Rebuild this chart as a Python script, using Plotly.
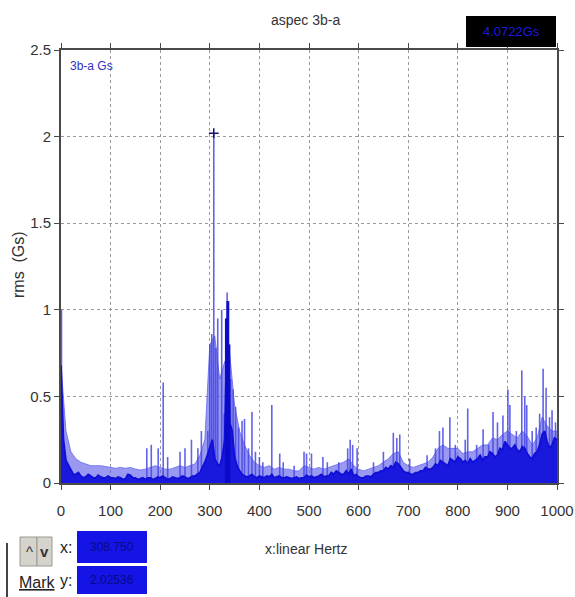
import plotly.graph_objects as go

# ---------------- spectrum data (rms in Gs, frequency in Hz) ----------------
# 10 Hz grid for the dense floor of the spectrum and its light upper envelope
grid_hz = [
    0, 10, 20, 30, 40, 50, 60, 70, 80, 90,
    100, 110, 120, 130, 140, 150, 160, 170, 180, 190,
    200, 210, 220, 230, 240, 250, 260, 270, 280, 290,
    300, 310, 320, 330, 340, 350, 360, 370, 380, 390,
    400, 410, 420, 430, 440, 450, 460, 470, 480, 490,
    500, 510, 520, 530, 540, 550, 560, 570, 580, 590,
    600, 610, 620, 630, 640, 650, 660, 670, 680, 690,
    700, 710, 720, 730, 740, 750, 760, 770, 780, 790,
    800, 810, 820, 830, 840, 850, 860, 870, 880, 890,
    900, 910, 920, 930, 940, 950, 960, 970, 980, 990,
    1000,
]

floor_rms = [
    0.68, 0.13, 0.07, 0.05, 0.04, 0.035, 0.04, 0.03, 0.035, 0.03,
    0.03, 0.025, 0.03, 0.025, 0.045, 0.03, 0.025, 0.02, 0.03, 0.025,
    0.03, 0.03, 0.025, 0.03, 0.03, 0.035, 0.03, 0.04, 0.06, 0.12,
    0.2, 0.14, 0.1, 0.25, 0.35, 0.15, 0.07, 0.04, 0.04, 0.035,
    0.04, 0.03, 0.035, 0.03, 0.04, 0.03, 0.03, 0.03, 0.025, 0.03,
    0.035, 0.03, 0.04, 0.035, 0.04, 0.05, 0.06, 0.05, 0.05, 0.04,
    0.035, 0.03, 0.04, 0.05, 0.06, 0.07, 0.08, 0.09, 0.11, 0.07,
    0.06, 0.05, 0.06, 0.07, 0.08, 0.09, 0.1, 0.12, 0.1, 0.13,
    0.15, 0.12, 0.11, 0.12, 0.14, 0.13, 0.15, 0.17, 0.16, 0.19,
    0.22, 0.2, 0.19, 0.21, 0.17, 0.14, 0.18, 0.28, 0.24, 0.22,
    0.25,
]

# floor values half-way between grid points (5, 15, ..., 995 Hz)
mid_hz = [
    5, 15, 25, 35, 45, 55, 65, 75, 85, 95,
    105, 115, 125, 135, 145, 155, 165, 175, 185, 195,
    205, 215, 225, 235, 245, 255, 265, 275, 285, 295,
    305, 315, 325, 335, 345, 355, 365, 375, 385, 395,
    405, 415, 425, 435, 445, 455, 465, 475, 485, 495,
    505, 515, 525, 535, 545, 555, 565, 575, 585, 595,
    605, 615, 625, 635, 645, 655, 665, 675, 685, 695,
    705, 715, 725, 735, 745, 755, 765, 775, 785, 795,
    805, 815, 825, 835, 845, 855, 865, 875, 885, 895,
    905, 915, 925, 935, 945, 955, 965, 975, 985, 995,
]

mid_rms = [
    0.25, 0.1, 0.05, 0.06, 0.03, 0.05, 0.03, 0.045, 0.03, 0.04,
    0.03, 0.035, 0.02, 0.05, 0.03, 0.02, 0.03, 0.03, 0.02, 0.035,
    0.04, 0.02, 0.035, 0.025, 0.04, 0.025, 0.04, 0.05, 0.09, 0.16,
    0.25, 0.11, 0.15, 0.95, 0.3, 0.1, 0.05, 0.035, 0.05, 0.03,
    0.035, 0.04, 0.05, 0.035, 0.03, 0.035, 0.025, 0.035, 0.03, 0.045,
    0.04, 0.035, 0.05, 0.04, 0.06, 0.07, 0.05, 0.07, 0.08, 0.05,
    0.03, 0.04, 0.035, 0.06, 0.07, 0.09, 0.1, 0.12, 0.09, 0.06,
    0.05, 0.06, 0.07, 0.09, 0.08, 0.11, 0.13, 0.11, 0.14, 0.12,
    0.14, 0.13, 0.14, 0.13, 0.16, 0.15, 0.18, 0.15, 0.2, 0.24,
    0.2, 0.22, 0.18, 0.2, 0.15, 0.17, 0.22, 0.3, 0.2, 0.26,
]

envelope_rms = [
    0.68, 0.3, 0.18, 0.14, 0.12, 0.11, 0.1, 0.1, 0.1, 0.095,
    0.09, 0.085, 0.09, 0.085, 0.09, 0.08, 0.075, 0.08, 0.09, 0.1,
    0.09, 0.08, 0.08, 0.09, 0.1, 0.09, 0.1, 0.11, 0.16, 0.25,
    0.8, 0.85, 0.6, 0.7, 0.75, 0.45, 0.3, 0.22, 0.16, 0.12,
    0.1, 0.09, 0.1, 0.08, 0.09, 0.08, 0.08, 0.07, 0.07, 0.1,
    0.09, 0.08, 0.09, 0.08, 0.09, 0.1, 0.11, 0.12, 0.14, 0.1,
    0.08, 0.07, 0.08, 0.09, 0.1, 0.12, 0.14, 0.17, 0.18, 0.12,
    0.1, 0.09, 0.1, 0.11, 0.12, 0.15, 0.2, 0.22, 0.2, 0.2,
    0.2, 0.17, 0.18, 0.18, 0.2, 0.22, 0.22, 0.26, 0.25, 0.28,
    0.3, 0.28, 0.26, 0.3, 0.27, 0.22, 0.26, 0.38, 0.33, 0.3,
    0.3,
]

# isolated spectral lines
peak_hz = [
    1, 173, 182, 196, 206, 215, 240, 250, 263, 276, 283, 296,
    300, 304, 308, 312, 316, 324, 329, 335, 338, 342, 347, 352,
    358, 365, 370, 378, 385, 392, 400, 407, 425, 441, 448, 470,
    490, 495, 505, 528, 537, 560, 578, 583, 588, 597, 630, 650,
    670, 677, 683, 703, 738, 755, 763, 770, 784, 795, 800, 815,
    820, 838, 851, 862, 871, 880, 891, 901, 905, 918, 929, 935,
    939, 950, 958, 965, 972, 978, 985, 990, 997,
]
peak_rms = [
    1.0, 0.2, 0.22, 0.2, 0.58, 0.15, 0.18, 0.2, 0.25, 0.2, 0.3, 0.3,
    0.8, 0.86, 2.02, 0.78, 0.95, 1.0, 0.4, 1.1, 1.05, 0.6, 0.54, 0.44,
    0.32, 0.36, 0.37, 0.2, 0.41, 0.18, 0.15, 0.12, 0.45, 0.17, 0.12, 0.1,
    0.18, 0.17, 0.17, 0.15, 0.12, 0.12, 0.2, 0.25, 0.22, 0.2, 0.12, 0.18,
    0.29, 0.26, 0.28, 0.14, 0.16, 0.2, 0.3, 0.32, 0.38, 0.22, 0.16, 0.25,
    0.43, 0.22, 0.31, 0.22, 0.41, 0.35, 0.39, 0.54, 0.45, 0.3, 0.65, 0.5,
    0.45, 0.3, 0.32, 0.4, 0.66, 0.55, 0.38, 0.42, 0.35,
]

# strong dark lines of the 335 Hz cluster
dark_peak_hz = [333, 336, 339]
dark_peak_rms = [0.95, 1.05, 0.8]

# cursor position
mark_hz = 308
mark_rms = 2.02

x_ticks = [0, 100, 200, 300, 400, 500, 600, 700, 800, 900, 1000]
y_ticks = [0, 0.5, 1, 1.5, 2, 2.5]
y_tick_text = ["0", "0.5", "1", "1.5", "2", "2.5"]

FONT = "Liberation Sans Narrow, Arial Narrow, Liberation Sans, Arial, sans-serif"
W, H = 575, 597
L, R, T, B = 61, 18, 50, 114
PW, PH = W - L - R, H - T - B


def px(x):
    return (x - L) / PW


def py(y):
    return (H - B - y) / PH


fig = go.Figure()

# light upper envelope
fig.add_trace(go.Scatter(
    x=grid_hz, y=envelope_rms, mode="lines",
    line=dict(width=0.8, color="rgba(90,90,235,0.9)"),
    fill="tozeroy", fillcolor="rgba(105,105,235,0.68)",
    hoverinfo="skip", showlegend=False,
))

# spectral lines
sx, sy = [], []
for f, v in zip(peak_hz, peak_rms):
    sx += [f, f, None]
    sy += [0, v, None]
fig.add_trace(go.Scatter(
    x=sx, y=sy, mode="lines",
    line=dict(width=1.6, color="rgba(70,70,230,0.85)"),
    hoverinfo="skip", showlegend=False,
))

# dense dark floor (grid and half-grid points merged in frequency order)
floor_pts = sorted(zip(grid_hz + mid_hz, floor_rms + mid_rms))
fig.add_trace(go.Scatter(
    x=[p[0] for p in floor_pts], y=[p[1] for p in floor_pts], mode="lines",
    line=dict(width=1.8, color="rgb(15,15,215)"),
    fill="tozeroy", fillcolor="rgb(25,25,222)",
    hoverinfo="skip", showlegend=False,
))

dx, dy = [], []
for f, v in zip(dark_peak_hz, dark_peak_rms):
    dx += [f, f, None]
    dy += [0, v, None]
fig.add_trace(go.Scatter(
    x=dx, y=dy, mode="lines",
    line=dict(width=2.5, color="rgb(10,10,200)"),
    hoverinfo="skip", showlegend=False,
))

# cursor marker
fig.add_trace(go.Scatter(
    x=[mark_hz], y=[mark_rms], mode="markers",
    marker=dict(symbol="cross-thin", size=7, line=dict(width=1.5, color="#10106a")),
    hoverinfo="skip", showlegend=False,
))

axis_common = dict(
    showline=True, linecolor="#4a4a4a", linewidth=2, mirror="ticks",
    ticks="outside", ticklen=5, tickwidth=1, tickcolor="#4a4a4a",
    showgrid=True, gridcolor="#9a9a9a", griddash="dot", gridwidth=1,
    zeroline=False, ticklabeloverflow="allow", automargin=False,
    tickfont=dict(family=FONT, size=15, color="#333333"),
)

fig.update_xaxes(range=[0, 1000], tickvals=x_ticks, ticklabelstandoff=8, **axis_common)
fig.update_yaxes(range=[0, 2.5], tickvals=y_ticks, ticktext=y_tick_text, **axis_common)

annotations = [
    dict(x=px(305), y=py(20), text="aspec 3b-a", font=dict(size=14, color="#333333")),
    dict(x=px(18), y=py(265), text="rms  (Gs)", textangle=-90, font=dict(size=16, color="#333333")),
    dict(x=px(306), y=py(549), text="x:linear Hertz", font=dict(size=14, color="#333333")),
    dict(x=px(68), y=py(66), text="3b-a Gs", xanchor="left", font=dict(size=12, color="#3030c8")),
    dict(x=px(511), y=py(32), text="4.0722Gs", font=dict(size=13, color="#1a1ae0")),
    dict(x=px(29), y=py(551), text="^", font=dict(size=15, color="#333333")),
    dict(x=px(44), y=py(551), text="<b>v</b>", font=dict(size=15, color="#333333")),
    dict(x=px(66), y=py(547), text="x:", font=dict(size=16, color="#222222")),
    dict(x=px(112), y=py(547), text="308.750", font=dict(size=12, color="#0a0a80")),
    dict(x=px(37), y=py(582), text="<u>Mark</u>", font=dict(size=16, color="#222222")),
    dict(x=px(66), y=py(580), text="y:", font=dict(size=16, color="#222222")),
    dict(x=px(112), y=py(580), text="2.02536", font=dict(size=12, color="#0a0a80")),
]
for a in annotations:
    a.setdefault("xanchor", "center")
    a.update(xref="paper", yref="paper", yanchor="middle", showarrow=False)
    a["font"]["family"] = FONT

shapes = [
    # readout box at top right
    dict(x0=px(466), x1=px(556), y0=py(47), y1=py(16), fillcolor="#000000", line=dict(width=0)),
    # arrow buttons
    dict(x0=px(20), x1=px(37), y0=py(566), y1=py(537), fillcolor="#d6d3cc",
         line=dict(width=1, color="#9a9890")),
    dict(x0=px(37), x1=px(52), y0=py(566), y1=py(537), fillcolor="#d6d3cc",
         line=dict(width=1, color="#9a9890")),
    # x / y readouts
    dict(x0=px(77), x1=px(147), y0=py(563), y1=py(531), fillcolor="#1414e6", line=dict(width=0)),
    dict(x0=px(77), x1=px(147), y0=py(594), y1=py(566), fillcolor="#1414e6", line=dict(width=0)),
    # panel edge
    dict(type="line", x0=px(7), x1=px(7), y0=py(543), y1=py(597), line=dict(width=2, color="#444444")),
]
for s in shapes:
    s.setdefault("type", "rect")
    s.update(xref="paper", yref="paper", layer="above")

fig.update_layout(
    width=W, height=H,
    margin=dict(l=L, r=R, t=T, b=B),
    paper_bgcolor="white", plot_bgcolor="white",
    annotations=annotations, shapes=shapes,
    showlegend=False,
)

fig.write_html("out.html")
